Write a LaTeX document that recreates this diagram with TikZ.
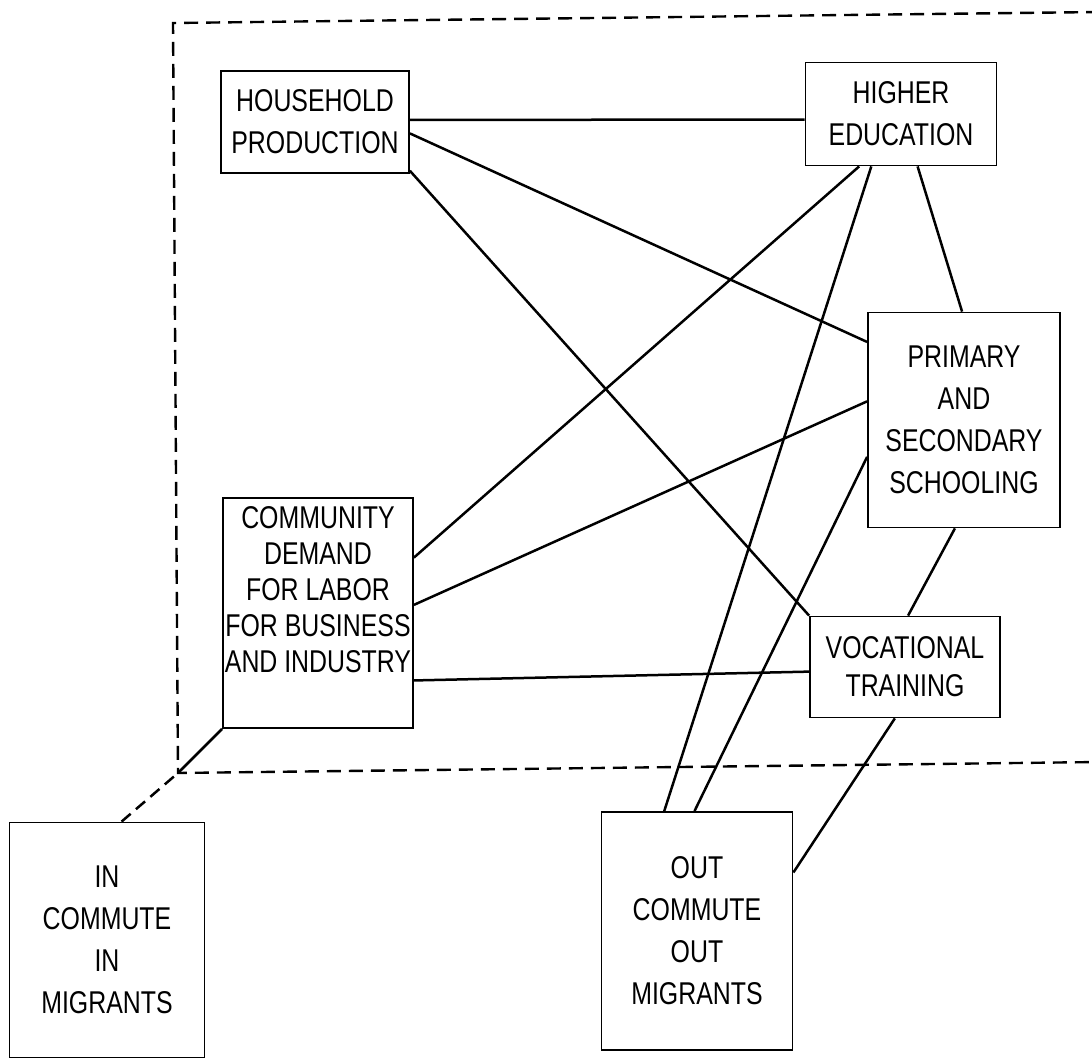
\documentclass[tikz,border=0pt]{standalone}
\usepackage{fontspec}
\newfontfamily\boxfont[FakeStretch=0.79]{Liberation Sans}
\usetikzlibrary{calc}
\begin{document}
\begin{tikzpicture}[x=1pt,y=-1pt,
  box/.style={draw=black, line width=1.8pt, inner sep=0pt, align=center,
    font={\boxfont\fontsize{31.5}{42}\selectfont}},
  link/.style={line width=2.5pt, black},
  framestyle/.style={line width=2.4pt, dash pattern=on 14pt off 8pt},
  dashlink/.style={line width=2.5pt, dash pattern=on 12pt off 7pt}]
\useasboundingbox (0,0) rectangle (1092,1064);
% outer dashed frame (open to the right)
\coordinate (ftr) at (1100,12);
\coordinate (ftl) at (173,23);
\coordinate (fbl) at (178,773);
\coordinate (fbr) at (1100,762);
\draw[framestyle] (ftr) -- (ftl) -- (fbl) -- (fbr);
% boxes
\node[box, minimum width=188pt, minimum height=102pt] (hp) at (315,122) {HOUSEHOLD\\PRODUCTION};
\node[box, minimum width=191pt, minimum height=103pt] (he) at (901,114) {HIGHER\\EDUCATION};
\node[box, minimum width=192pt, minimum height=215pt] (ps) at (964,420) {PRIMARY\\AND\\SECONDARY\\SCHOOLING};
\node[box, minimum width=190pt, minimum height=230pt,
  font={\boxfont\fontsize{31.5}{36}\selectfont}] (cd) at (318,613) {COMMUNITY\\DEMAND\\FOR LABOR\\FOR BUSINESS\\AND INDUSTRY\\[12pt]};
\node[box, minimum width=190pt, minimum height=101pt,
  font={\boxfont\fontsize{31.5}{38}\selectfont}] (vt) at (905,667) {VOCATIONAL\\TRAINING};
\node[box, minimum width=191pt, minimum height=238pt] (oc) at (697,931) {OUT\\COMMUTE\\OUT\\MIGRANTS};
\node[box, minimum width=195pt, minimum height=235pt] (ic) at (107,940) {IN\\COMMUTE\\IN\\MIGRANTS};
% connectors
\draw[link] ($(hp.north east)!0.48!(hp.south east)$) -- ($(he.north west)!0.553!(he.south west)$);
\draw[link] ($(hp.north east)!0.61!(hp.south east)$) -- ($(ps.north west)!0.14!(ps.south west)$);
\draw[link] ($(hp.north east)!0.97!(hp.south east)$) -- (vt.north west);
\draw[link] ($(he.south west)!0.283!(he.south east)$) -- ($(cd.north east)!0.261!(cd.south east)$);
\draw[link] ($(he.south west)!0.346!(he.south east)$) -- ($(oc.north west)!0.33!(oc.north east)$);
\draw[link] ($(he.south west)!0.586!(he.south east)$) -- ($(ps.north west)!0.49!(ps.north east)$);
\draw[link] ($(cd.north east)!0.465!(cd.south east)$) -- ($(ps.north west)!0.414!(ps.south west)$);
\draw[link] ($(cd.north east)!0.791!(cd.south east)$) -- ($(vt.north west)!0.545!(vt.south west)$);
\draw[link] ($(oc.north west)!0.487!(oc.north east)$) -- ($(ps.north west)!0.67!(ps.south west)$);
\draw[link] ($(ps.south west)!0.453!(ps.south east)$) -- ($(vt.north west)!0.516!(vt.north east)$);
\draw[link] ($(vt.south west)!0.447!(vt.south east)$) -- ($(oc.north east)!0.256!(oc.south east)$);
\draw[dashlink] ($(ic.north west)!0.574!(ic.north east)$) -- (fbl);
\draw[link] (fbl) -- (cd.south west);
\end{tikzpicture}
\end{document}
